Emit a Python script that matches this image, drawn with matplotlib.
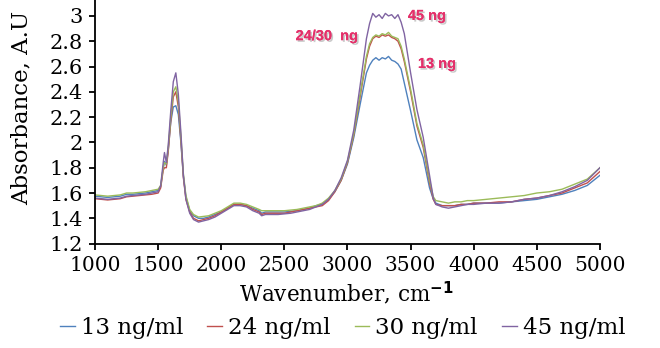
import matplotlib
matplotlib.use("Agg")
import matplotlib.pyplot as plt
import matplotlib.patheffects as pe

wavenumber = (
    [1000, 1050, 1100, 1150, 1200, 1250, 1300, 1350, 1400, 1450, 1500]
    + [1520, 1540, 1550, 1565, 1580, 1600, 1620, 1640, 1660]
    + [1680, 1700, 1720, 1750, 1780, 1820, 1860, 1900, 1950, 2000, 2050, 2100, 2150,
       2200, 2250, 2300, 2320, 2350, 2400, 2450, 2500, 2550, 2600, 2650, 2700, 2750]
    + [2800, 2850, 2900, 2950, 3000, 3050, 3100]
    + [3150, 3175, 3200, 3225, 3250, 3275, 3300, 3325, 3350, 3375, 3400, 3425, 3450]
    + [3500, 3550, 3600, 3650, 3680]
    + [3700, 3750, 3800, 3850, 3900, 3950, 4000, 4100, 4200, 4300, 4400, 4500, 4600,
       4700, 4800, 4900, 5000]
)

abs_13 = (
    [1.575, 1.57, 1.565, 1.57, 1.575, 1.59, 1.59, 1.595, 1.60, 1.61, 1.62]
    + [1.65, 1.80, 1.85, 1.82, 1.94, 2.16, 2.28, 2.29, 2.22]
    + [2.00, 1.73, 1.57, 1.46, 1.42, 1.40, 1.40, 1.41, 1.43, 1.45, 1.48, 1.51, 1.51,
       1.50, 1.48, 1.46, 1.44, 1.45, 1.45, 1.45, 1.45, 1.455, 1.46, 1.47, 1.48, 1.50]
    + [1.51, 1.55, 1.61, 1.70, 1.83, 2.04, 2.30]
    + [2.55, 2.61, 2.65, 2.67, 2.65, 2.67, 2.66, 2.68, 2.65, 2.64, 2.62, 2.58, 2.47]
    + [2.25, 2.02, 1.88, 1.64, 1.55]
    + [1.52, 1.50, 1.50, 1.50, 1.51, 1.51, 1.52, 1.52, 1.52, 1.53, 1.54, 1.55, 1.57,
       1.59, 1.62, 1.66, 1.74]
)

abs_24 = (
    [1.555, 1.55, 1.545, 1.55, 1.555, 1.57, 1.575, 1.58, 1.585, 1.59, 1.60]
    + [1.64, 1.78, 1.80, 1.80, 1.93, 2.17, 2.36, 2.40, 2.28]
    + [2.02, 1.72, 1.55, 1.45, 1.40, 1.38, 1.39, 1.40, 1.42, 1.45, 1.48, 1.51, 1.51,
       1.50, 1.47, 1.45, 1.43, 1.44, 1.44, 1.44, 1.44, 1.45, 1.46, 1.47, 1.48, 1.49]
    + [1.50, 1.54, 1.61, 1.70, 1.84, 2.06, 2.36]
    + [2.66, 2.76, 2.82, 2.84, 2.83, 2.85, 2.84, 2.85, 2.83, 2.82, 2.80, 2.74, 2.64]
    + [2.40, 2.13, 1.96, 1.68, 1.55]
    + [1.51, 1.50, 1.50, 1.50, 1.51, 1.51, 1.52, 1.52, 1.53, 1.53, 1.55, 1.56, 1.58,
       1.60, 1.64, 1.68, 1.77]
)

abs_30 = (
    [1.585, 1.58, 1.575, 1.58, 1.585, 1.60, 1.60, 1.605, 1.61, 1.62, 1.63]
    + [1.66, 1.80, 1.84, 1.83, 1.96, 2.20, 2.40, 2.44, 2.32]
    + [2.05, 1.75, 1.58, 1.47, 1.43, 1.41, 1.415, 1.42, 1.44, 1.46, 1.49, 1.52, 1.52,
       1.51, 1.49, 1.47, 1.46, 1.46, 1.46, 1.46, 1.46, 1.465, 1.47, 1.48, 1.49, 1.50]
    + [1.52, 1.56, 1.62, 1.71, 1.85, 2.07, 2.38]
    + [2.68, 2.78, 2.83, 2.85, 2.84, 2.86, 2.85, 2.87, 2.84, 2.83, 2.82, 2.76, 2.66]
    + [2.42, 2.15, 1.98, 1.70, 1.57]
    + [1.54, 1.53, 1.52, 1.53, 1.53, 1.54, 1.54, 1.55, 1.56, 1.57, 1.58, 1.60, 1.61,
       1.63, 1.67, 1.71, 1.80]
)

abs_45 = (
    [1.56, 1.555, 1.55, 1.555, 1.56, 1.575, 1.58, 1.585, 1.59, 1.60, 1.61]
    + [1.66, 1.84, 1.92, 1.84, 1.98, 2.25, 2.48, 2.55, 2.38]
    + [2.08, 1.74, 1.55, 1.44, 1.39, 1.37, 1.38, 1.39, 1.41, 1.44, 1.47, 1.50, 1.50,
       1.49, 1.46, 1.44, 1.42, 1.43, 1.43, 1.43, 1.435, 1.44, 1.45, 1.46, 1.47, 1.49]
    + [1.51, 1.55, 1.62, 1.72, 1.86, 2.10, 2.45]
    + [2.82, 2.94, 3.02, 2.99, 3.01, 2.98, 3.02, 3.00, 3.01, 2.98, 3.01, 2.95, 2.86]
    + [2.55, 2.26, 2.04, 1.74, 1.56]
    + [1.51, 1.49, 1.48, 1.49, 1.50, 1.51, 1.51, 1.52, 1.52, 1.53, 1.55, 1.56, 1.58,
       1.61, 1.65, 1.70, 1.80]
)

series_labels = ["13 ng/ml", "24 ng/ml", "30 ng/ml", "45 ng/ml"]
series_colors = ["#4F81BD", "#C0504D", "#9BBB59", "#8064A2"]
x_ticks = [1000, 1500, 2000, 2500, 3000, 3500, 4000, 4500, 5000]
y_ticks = [1.2, 1.4, 1.6, 1.8, 2.0, 2.2, 2.4, 2.6, 2.8, 3.0]
y_ticklabels = ["1.2", "1.4", "1.6", "1.8", "2", "2.2", "2.4", "2.6", "2.8", "3"]
annotations = [("45 ng", 3630, 3.00), ("24/30  ng", 2838, 2.84), ("13 ng", 3709, 2.62)]

plt.rcParams["font.family"] = ["DejaVu Serif"]

fig = plt.figure(figsize=(6.6, 3.48), dpi=100)
ax = fig.add_axes([0.144, 0.30, 0.765, 0.70])

for vals, lab, col in zip([abs_13, abs_24, abs_30, abs_45], series_labels, series_colors):
    ax.plot(wavenumber, vals, color=col, lw=1.0, label=lab)

ax.set_xlim(1000, 5000)
ax.set_ylim(1.2, 3.126)
ax.set_xticks(x_ticks)
ax.set_yticks(y_ticks)
ax.set_yticklabels(y_ticklabels)
ax.tick_params(axis="both", labelsize=15, direction="out", length=4.5, width=1.3)
ax.tick_params(axis="x", labelsize=14.5, pad=4.5)
ax.tick_params(axis="y", pad=4)
for s in ["top", "right"]:
    ax.spines[s].set_visible(False)
for s in ["left", "bottom"]:
    ax.spines[s].set_linewidth(1.3)

ax.set_xlabel("Wavenumber, cm$^{\\mathbf{-1}}$", fontsize=15.5)
ax.xaxis.set_label_coords(0.497, -0.148)
ax.set_ylabel("Absorbance, A.U", fontsize=16.5)
ax.yaxis.set_label_coords(-0.123, 0.557)

for txt, xv, yv in annotations:
    ax.text(xv, yv, txt, color="#E4306A", fontsize=10.5, fontweight="bold",
            family="Liberation Sans", ha="center", va="center",
            path_effects=[pe.withSimplePatchShadow(offset=(1.2, -1.2), shadow_rgbFace="#888888", alpha=0.45), pe.Normal()])

fig.legend(loc="center", bbox_to_anchor=(0.519, 0.0575), ncol=4, frameon=False,
           fontsize=16.5, handlelength=0.65, handletextpad=0.26, columnspacing=1.05)

fig.savefig("out.png", dpi=100)
